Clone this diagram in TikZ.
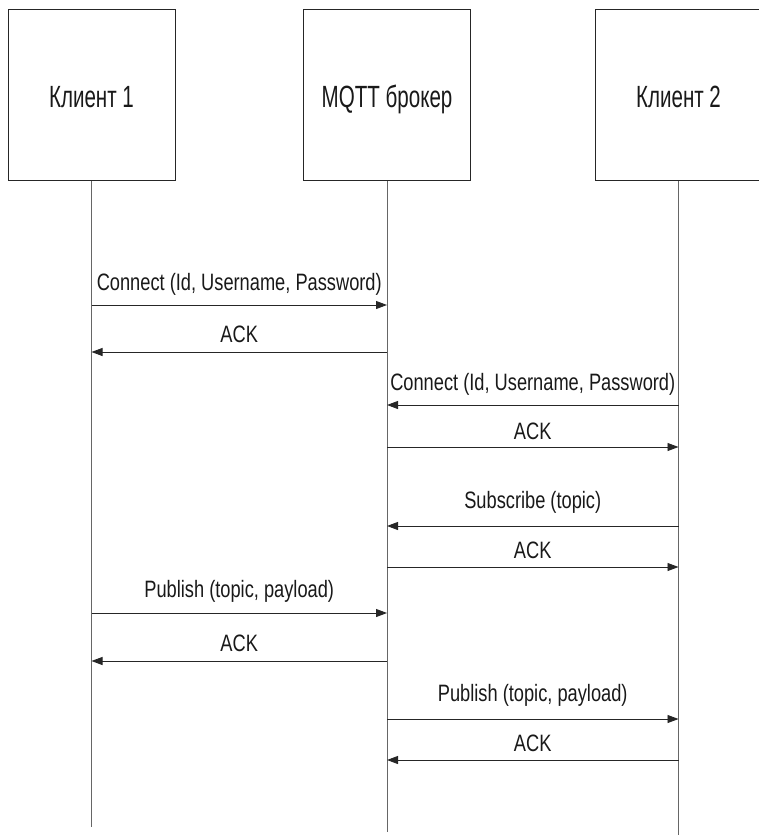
\documentclass[tikz,border=0pt]{standalone}
\usepackage{fontspec}
\setmainfont{Liberation Sans}[FakeStretch=0.77]
\newfontfamily\partyfont{Liberation Sans}[FakeStretch=0.67]
\usetikzlibrary{arrows.meta}
\begin{document}
\begin{tikzpicture}[x=1pt,y=-1pt,
  party/.style={draw=black!85,line width=0.9pt,minimum width=167pt,minimum height=171pt,
    inner sep=0pt,text height=24pt,text depth=0pt,
    font=\partyfont\fontsize{30.7}{34}\selectfont,text=black!90},
  lifeline/.style={draw=black!60,line width=0.9pt},
  msg/.style={draw=black!85,line width=0.9pt,-{Triangle[length=11pt,width=8pt]}},
  lbl/.style={font=\fontsize{23.7}{27}\selectfont,text=black!90,inner sep=0pt,anchor=south}]
  \useasboundingbox (0,0) rectangle (758,835);
  % participants
  \node[party] (c1) at (91.5,95) {Клиент 1};
  \node[party] (br) at (387,95) {MQTT брокер};
  \node[party] (c2) at (678.5,95) {Клиент 2};
  % lifelines
  \coordinate (e1) at (91.5,827);
  \coordinate (e2) at (387,832);
  \coordinate (e3) at (678.5,836);
  \draw[lifeline] (c1.south) -- (e1);
  \draw[lifeline] (br.south) -- (e2);
  \draw[lifeline] (c2.south) -- (e3);
  % message rows: y positions on the lifelines
  \foreach \n/\y in {1/305,2/352,3/405,4/447,5/526,6/567,7/613,8/661,9/719,10/760}{
    \coordinate (a\n) at (91.5,\y);
    \coordinate (b\n) at (387,\y);
    \coordinate (d\n) at (678.5,\y);
  }
  \draw[msg] (a1) -- node[lbl,above=9pt] {Connect (Id, Username, Password)} (b1);
  \draw[msg] (b2) -- node[lbl,above=9pt] {ACK} (a2);
  \draw[msg] (d3) -- node[lbl,above=9pt] {Connect (Id, Username, Password)} (b3);
  \draw[msg] (b4) -- node[lbl,above=7pt] {ACK} (d4);
  \draw[msg] (d5) -- node[lbl,above=12pt] {Subscribe (topic)} (b5);
  \draw[msg] (b6) -- node[lbl,above=8pt] {ACK} (d6);
  \draw[msg] (a7) -- node[lbl,above=10pt] {Publish (topic, payload)} (b7);
  \draw[msg] (b8) -- node[lbl,above=9pt] {ACK} (a8);
  \draw[msg] (b9) -- node[lbl,above=12pt] {Publish (topic, payload)} (d9);
  \draw[msg] (d10) -- node[lbl,above=8pt] {ACK} (b10);
\end{tikzpicture}
\end{document}
